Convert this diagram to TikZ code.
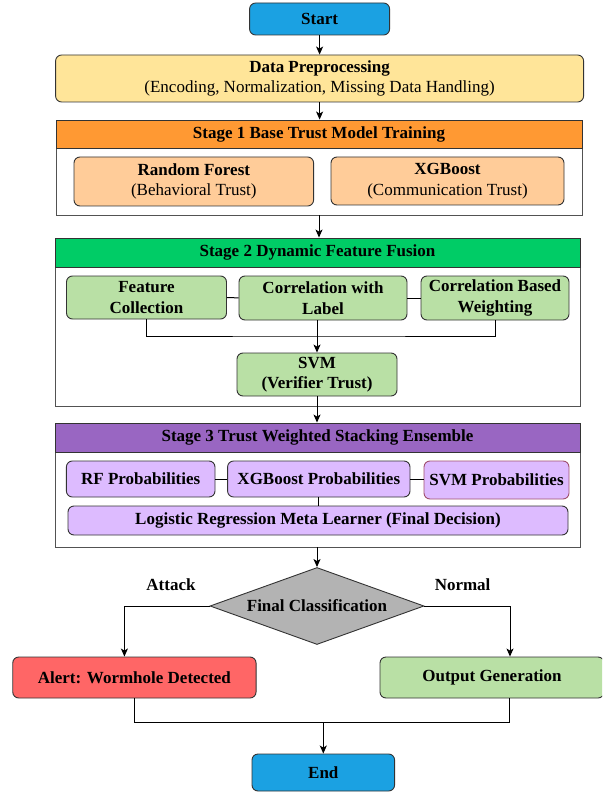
\documentclass[tikz,border=0pt]{standalone}
\usepackage{fontspec}
\setmainfont{Liberation Serif}
\usepackage{tikz}
\usetikzlibrary{shapes, arrows.meta, positioning, calc}
\definecolor{startblue}{HTML}{1BA1E2}
\definecolor{prepyellow}{HTML}{FFE599}
\definecolor{stageorange}{HTML}{FF9933}
\definecolor{modelpeach}{HTML}{FFCC99}
\definecolor{stagegreen}{HTML}{00CC66}
\definecolor{boxgreen}{HTML}{B9E0A5}
\definecolor{stagepurple}{HTML}{9966C2}
\definecolor{boxpurple}{HTML}{DDBBFF}
\definecolor{svmborder}{HTML}{A0506E}
\definecolor{decisiongray}{HTML}{B3B3B3}
\definecolor{alertred}{HTML}{FF6666}
\definecolor{borderdark}{HTML}{333333}

\begin{document}
\begin{tikzpicture}[
    x=1pt, y=-1pt,
    font=\fontsize{17}{20.5}\selectfont,
    block/.style={rectangle, rounded corners=6pt, draw=borderdark, line width=0.9pt, align=center, inner sep=0pt},
    header/.style={rectangle, draw=borderdark, line width=0.9pt, inner sep=0pt, font=\fontsize{17}{20.5}\selectfont\bfseries},
    frame/.style={rectangle, draw=borderdark!85, line width=0.9pt, inner sep=0pt},
    flow/.style={-{Stealth[length=8pt, width=7pt, inset=2pt]}, line width=1pt},
    link/.style={line width=1pt},
]

\useasboundingbox (0,0) rectangle (602,794);
\clip (0,0) rectangle (602,794);

% Start and preprocessing
\node[block, fill=startblue, minimum width=140, minimum height=32, font=\fontsize{17}{20.5}\selectfont\bfseries] (start) at (319.6, 19) {Start};
\node[block, fill=prepyellow, minimum width=528, minimum height=47] (prep) at (319.6, 78.5) {\textbf{Data Preprocessing}\\(Encoding, Normalization, Missing Data Handling)};

% Stage 1
\node[frame, minimum width=526, minimum height=95] (s1frame) at (319, 167.5) {};
\node[header, fill=stageorange, minimum width=526, minimum height=28] (s1head) at (319, 134) {Stage 1 Base Trust Model Training};
\node[block, fill=modelpeach, minimum width=239.6, minimum height=49] (rf) at (193.8, 181.5) {\textbf{Random Forest}\\(Behavioral Trust)};
\node[block, fill=modelpeach, minimum width=233, minimum height=48] (xgb) at (447.5, 181) {\textbf{XGBoost}\\(Communication Trust)};

% Stage 2
\node[frame, minimum width=525, minimum height=168] (s2frame) at (317.5, 322) {};
\node[header, fill=stagegreen, minimum width=525, minimum height=29] (s2head) at (317.5, 252.5) {Stage 2 Dynamic Feature Fusion};
\node[block, fill=boxgreen, minimum width=160, minimum height=43, font=\fontsize{17}{20.5}\selectfont\bfseries] (fc) at (146.5, 297.5) {Feature\\Collection};
\node[block, fill=boxgreen, minimum width=168, minimum height=44, font=\fontsize{17}{20.5}\selectfont\bfseries] (cwl) at (323, 298) {Correlation with\\Label};
\node[block, fill=boxgreen, minimum width=148, minimum height=44, font=\fontsize{17}{20.5}\selectfont\bfseries] (cbw) at (495, 298) {Correlation Based\\Weighting};
\node[block, fill=boxgreen, minimum width=160, minimum height=43, font=\fontsize{17}{20.5}\selectfont\bfseries] (svm) at (317, 374.5) {SVM\\(Verifier Trust)};

% Stage 3
\node[frame, minimum width=525, minimum height=124] (s3frame) at (317.5, 485) {};
\node[header, fill=stagepurple, minimum width=525, minimum height=29] (s3head) at (317.5, 437.5) {Stage 3 Trust Weighted Stacking Ensemble};
\node[block, fill=boxpurple, minimum width=148.6, minimum height=36, font=\fontsize{17}{20.5}\selectfont\bfseries] (rfp) at (140.7, 479) {RF Probabilities};
\node[block, fill=boxpurple, minimum width=182.4, minimum height=36, font=\fontsize{17}{20.5}\selectfont\bfseries] (xgbp) at (318.8, 479) {XGBoost Probabilities};
\node[block, fill=boxpurple, draw=svmborder, minimum width=145, minimum height=38, font=\fontsize{17}{20.5}\selectfont\bfseries] (svmp) at (496.5, 480) {SVM Probabilities};
\node[block, fill=boxpurple, minimum width=500, minimum height=29, font=\fontsize{17}{20.5}\selectfont\bfseries] (lr) at (318, 520.5) {Logistic Regression Meta Learner (Final Decision)};

% Decision and outcomes
\node[diamond, draw=borderdark, line width=0.9pt, fill=decisiongray, inner sep=0pt, shape aspect=2.78, minimum width=214, minimum height=77, font=\fontsize{17}{20.5}\selectfont\bfseries] (decision) at (317, 606) {Final Classification};
\node[font=\fontsize{17}{20.5}\selectfont\bfseries] (attack) at (171, 585) {Attack};
\node[font=\fontsize{17}{20.5}\selectfont\bfseries] (normal) at (462.6, 585) {Normal};
\node[block, fill=alertred, minimum width=243.3, minimum height=41, font=\fontsize{17}{20.5}\selectfont\bfseries] (alert) at (134.4, 677.5) {Alert: Wormhole Detected};
\node[block, fill=boxgreen, minimum width=224, minimum height=41, font=\fontsize{17}{20.5}\selectfont\bfseries] (output) at (492, 677.5) {Output Generation};
\node[block, fill=startblue, minimum width=142.6, minimum height=37, font=\fontsize{17}{20.5}\selectfont\bfseries] (end) at (323.3, 772.5) {End};

% Main flow
\draw[flow] (start) -- (prep);
\draw[flow] (prep.south) -- (prep.south |- s1head.north);
\draw[flow] (s1frame.south) -- (s1frame.south |- s2head.north);

% Feature fusion links
\draw[link] (fc) -- (cwl);
\draw[link] (cwl) -- (cbw);
\draw[link] (fc.south) |- (svm.north |- 0,336) -| (cbw.south);
\draw[flow] (svm.north |- cwl.south) -- (svm.north);
\draw[flow] (svm.south) -- (svm.south |- s3head.north);

% Stacking links
\draw[link] (rfp) -- (xgbp);
\draw[link] (xgbp.east) -- (xgbp.east -| svmp.west);
\draw[link] (xgbp.south) -- (xgbp.south |- lr.north);
\draw[flow] (decision.north |- s3frame.south) -- (decision.north);

% Branches
\coordinate (attackdrop) at ($(alert.north)+(-10,0)$);
\coordinate (normaldrop) at ($(output.north)+(18,0)$);
\draw[flow] (decision.west) -| (attackdrop);
\draw[flow] (decision.east) -| (normaldrop);
\coordinate (merge) at (323.3, 722.5);
\draw[link] (alert.south) |- (merge) -| ($(output.south)+(17,0)$);
\draw[flow] (merge) -- (end.north);

\end{tikzpicture}
\end{document}
